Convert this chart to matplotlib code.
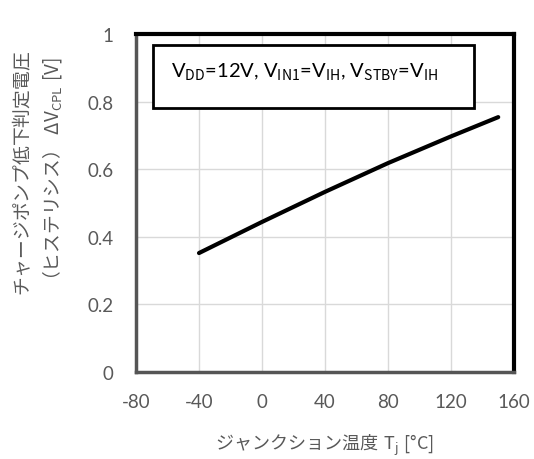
import matplotlib.pyplot as plt
from matplotlib.patches import Rectangle

plt.rcParams['font.family'] = ['Lato', 'Noto Sans CJK JP', 'DejaVu Sans']
plt.rcParams['axes.unicode_minus'] = False
# mathtext draws the whole string, so give it a font with Japanese glyphs
plt.rcParams['mathtext.fontset'] = 'custom'
plt.rcParams['mathtext.rm'] = 'Noto Sans CJK JP'
plt.rcParams['mathtext.it'] = 'Noto Sans CJK JP'
plt.rcParams['mathtext.bf'] = 'Noto Sans CJK JP'

# Data
temp = [-40, 0, 40, 80, 120, 150]
dv_cpl = [0.352, 0.444, 0.533, 0.618, 0.697, 0.754]
x_ticks = [-80, -40, 0, 40, 80, 120, 160]
y_ticks = [0, 0.2, 0.4, 0.6, 0.8, 1]
y_tick_labels = ['0', '0.2', '0.4', '0.6', '0.8', '1']

fig = plt.figure(figsize=(5.34, 4.60), dpi=100)
ax = fig.add_axes([0.2547, 0.189, 0.7078, 0.735])

ax.plot(temp, dv_cpl, color='black', lw=3, solid_capstyle='round', zorder=3)

ax.set_xlim(-80, 160)
ax.set_ylim(0, 1)
ax.set_xticks(x_ticks)
ax.set_yticks(y_ticks)
ax.set_yticklabels(y_tick_labels)
ax.tick_params(length=0, labelsize=13.5, labelcolor='#595959')
ax.tick_params(axis='x', pad=15)
ax.tick_params(axis='y', pad=16)
ax.grid(True, color='#d9d9d9', lw=1)
ax.set_axisbelow(True)

for side in ['top', 'right']:
    ax.spines[side].set_linewidth(3)
    ax.spines[side].set_color('black')
for side in ['left', 'bottom']:
    ax.spines[side].set_linewidth(2.5)
    ax.spines[side].set_color('#555555')

# Condition box
ax.add_patch(Rectangle((-69.2, 0.782), 203.8, 0.185, fill=True, facecolor='white',
                       edgecolor='black', lw=2, zorder=4))
ax.text(-58, 0.89, r'V$_{\mathrm{DD}}$=12V, V$_{\mathrm{IN1}}$=V$_{\mathrm{IH}}$, V$_{\mathrm{STBY}}$=V$_{\mathrm{IH}}$',
        fontsize=14.5, va='center', ha='left', zorder=5)

ax.set_xlabel(r'$\mathrm{ジャンクション温度\ T_{j}\ [°C]}$', fontsize=13, color='#595959', labelpad=16)
ax.set_ylabel('$\\mathrm{チャージポンプ低下判定電圧}$\n$\\mathrm{（ヒステリシス）\\ ΔV_{CPL}\\ [V]}$',
              fontsize=13.5, color='#595959', linespacing=1.4)
ax.yaxis.set_label_coords(-0.19, 0.59)

plt.savefig('out.png', dpi=100)
plt.close()
